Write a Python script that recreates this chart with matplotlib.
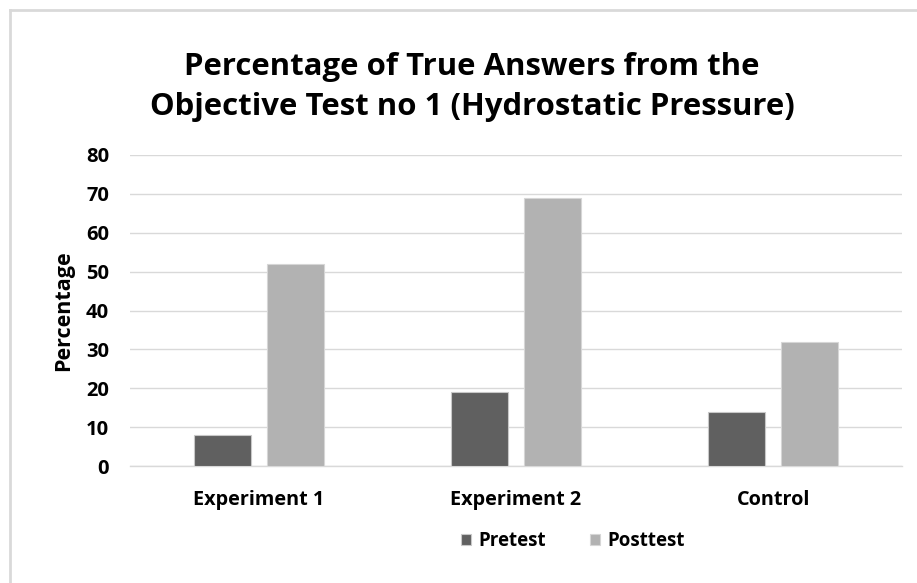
import matplotlib
matplotlib.use("Agg")
import matplotlib.pyplot as plt
from matplotlib.lines import Line2D
import numpy as np

categories = ["Experiment 1", "Experiment 2", "Control"]
pretest = [8, 19, 14]
posttest = [52, 69, 32]
series_names = ["Pretest", "Posttest"]
yticks = [0, 10, 20, 30, 40, 50, 60, 70, 80]

FONT = "Open Sans"
fig = plt.figure(figsize=(9.17, 5.83), dpi=100)
ax = fig.add_axes([130/917, 1-466/583, 772/917, 311/583])

x = np.arange(len(categories))
w = 0.222
off = 0.142
b1 = ax.bar(x - off, pretest, w, color="#606060", edgecolor="#c8c8c8", linewidth=0.8, zorder=3, label=series_names[0])
b2 = ax.bar(x + off, posttest, w, color="#b2b2b2", edgecolor="#d6d6d6", linewidth=0.8, zorder=3, label=series_names[1])

ax.set_xlim(-0.5, 2.5)
ax.set_ylim(0, 80)
ax.set_yticks(yticks)
ax.set_yticklabels([str(t) for t in yticks], fontfamily=FONT, fontweight="bold", fontsize=14.5)
ax.set_xticks(x)
ax.set_xticklabels(categories, fontfamily=FONT, fontweight="bold", fontsize=14.3)
ax.tick_params(axis="both", length=0)
ax.tick_params(axis="y", pad=15)
ax.tick_params(axis="x", pad=17)
ax.grid(axis="y", color="#d9d9d9", linewidth=1, zorder=0)
for s in ["top", "right", "left"]:
    ax.spines[s].set_visible(False)
ax.spines["bottom"].set_color("#d9d9d9")
ax.spines["bottom"].set_linewidth(1)

ax.set_ylabel("Percentage", fontfamily=FONT, fontweight="bold", fontsize=15.5)
ax.yaxis.set_label_coords(-0.073, 0.5)

fig.text(472/917, 1-87/583, "Percentage of True Answers from the\nObjective Test no 1 (Hydrostatic Pressure)",
         ha="center", va="center", fontfamily=FONT, fontweight="bold", fontsize=22.4, linespacing=1.4)

leg = fig.legend(handles=[b1, b2], labels=series_names, loc="center", bbox_to_anchor=(573/917, 1-541/583),
                 ncol=2, frameon=False, prop={"family": FONT, "weight": "bold", "size": 13.5},
                 handlelength=0.55, handleheight=0.55, handletextpad=0.4, columnspacing=2.3)

# outer border (top and left)
fig.add_artist(Line2D([10/917, 1.0], [1-10/583, 1-10/583], color="#d9d9d9", linewidth=2, transform=fig.transFigure))
fig.add_artist(Line2D([10/917, 10/917], [0, 1-10/583], color="#d9d9d9", linewidth=2, transform=fig.transFigure))

fig.savefig("out.png", dpi=100)
